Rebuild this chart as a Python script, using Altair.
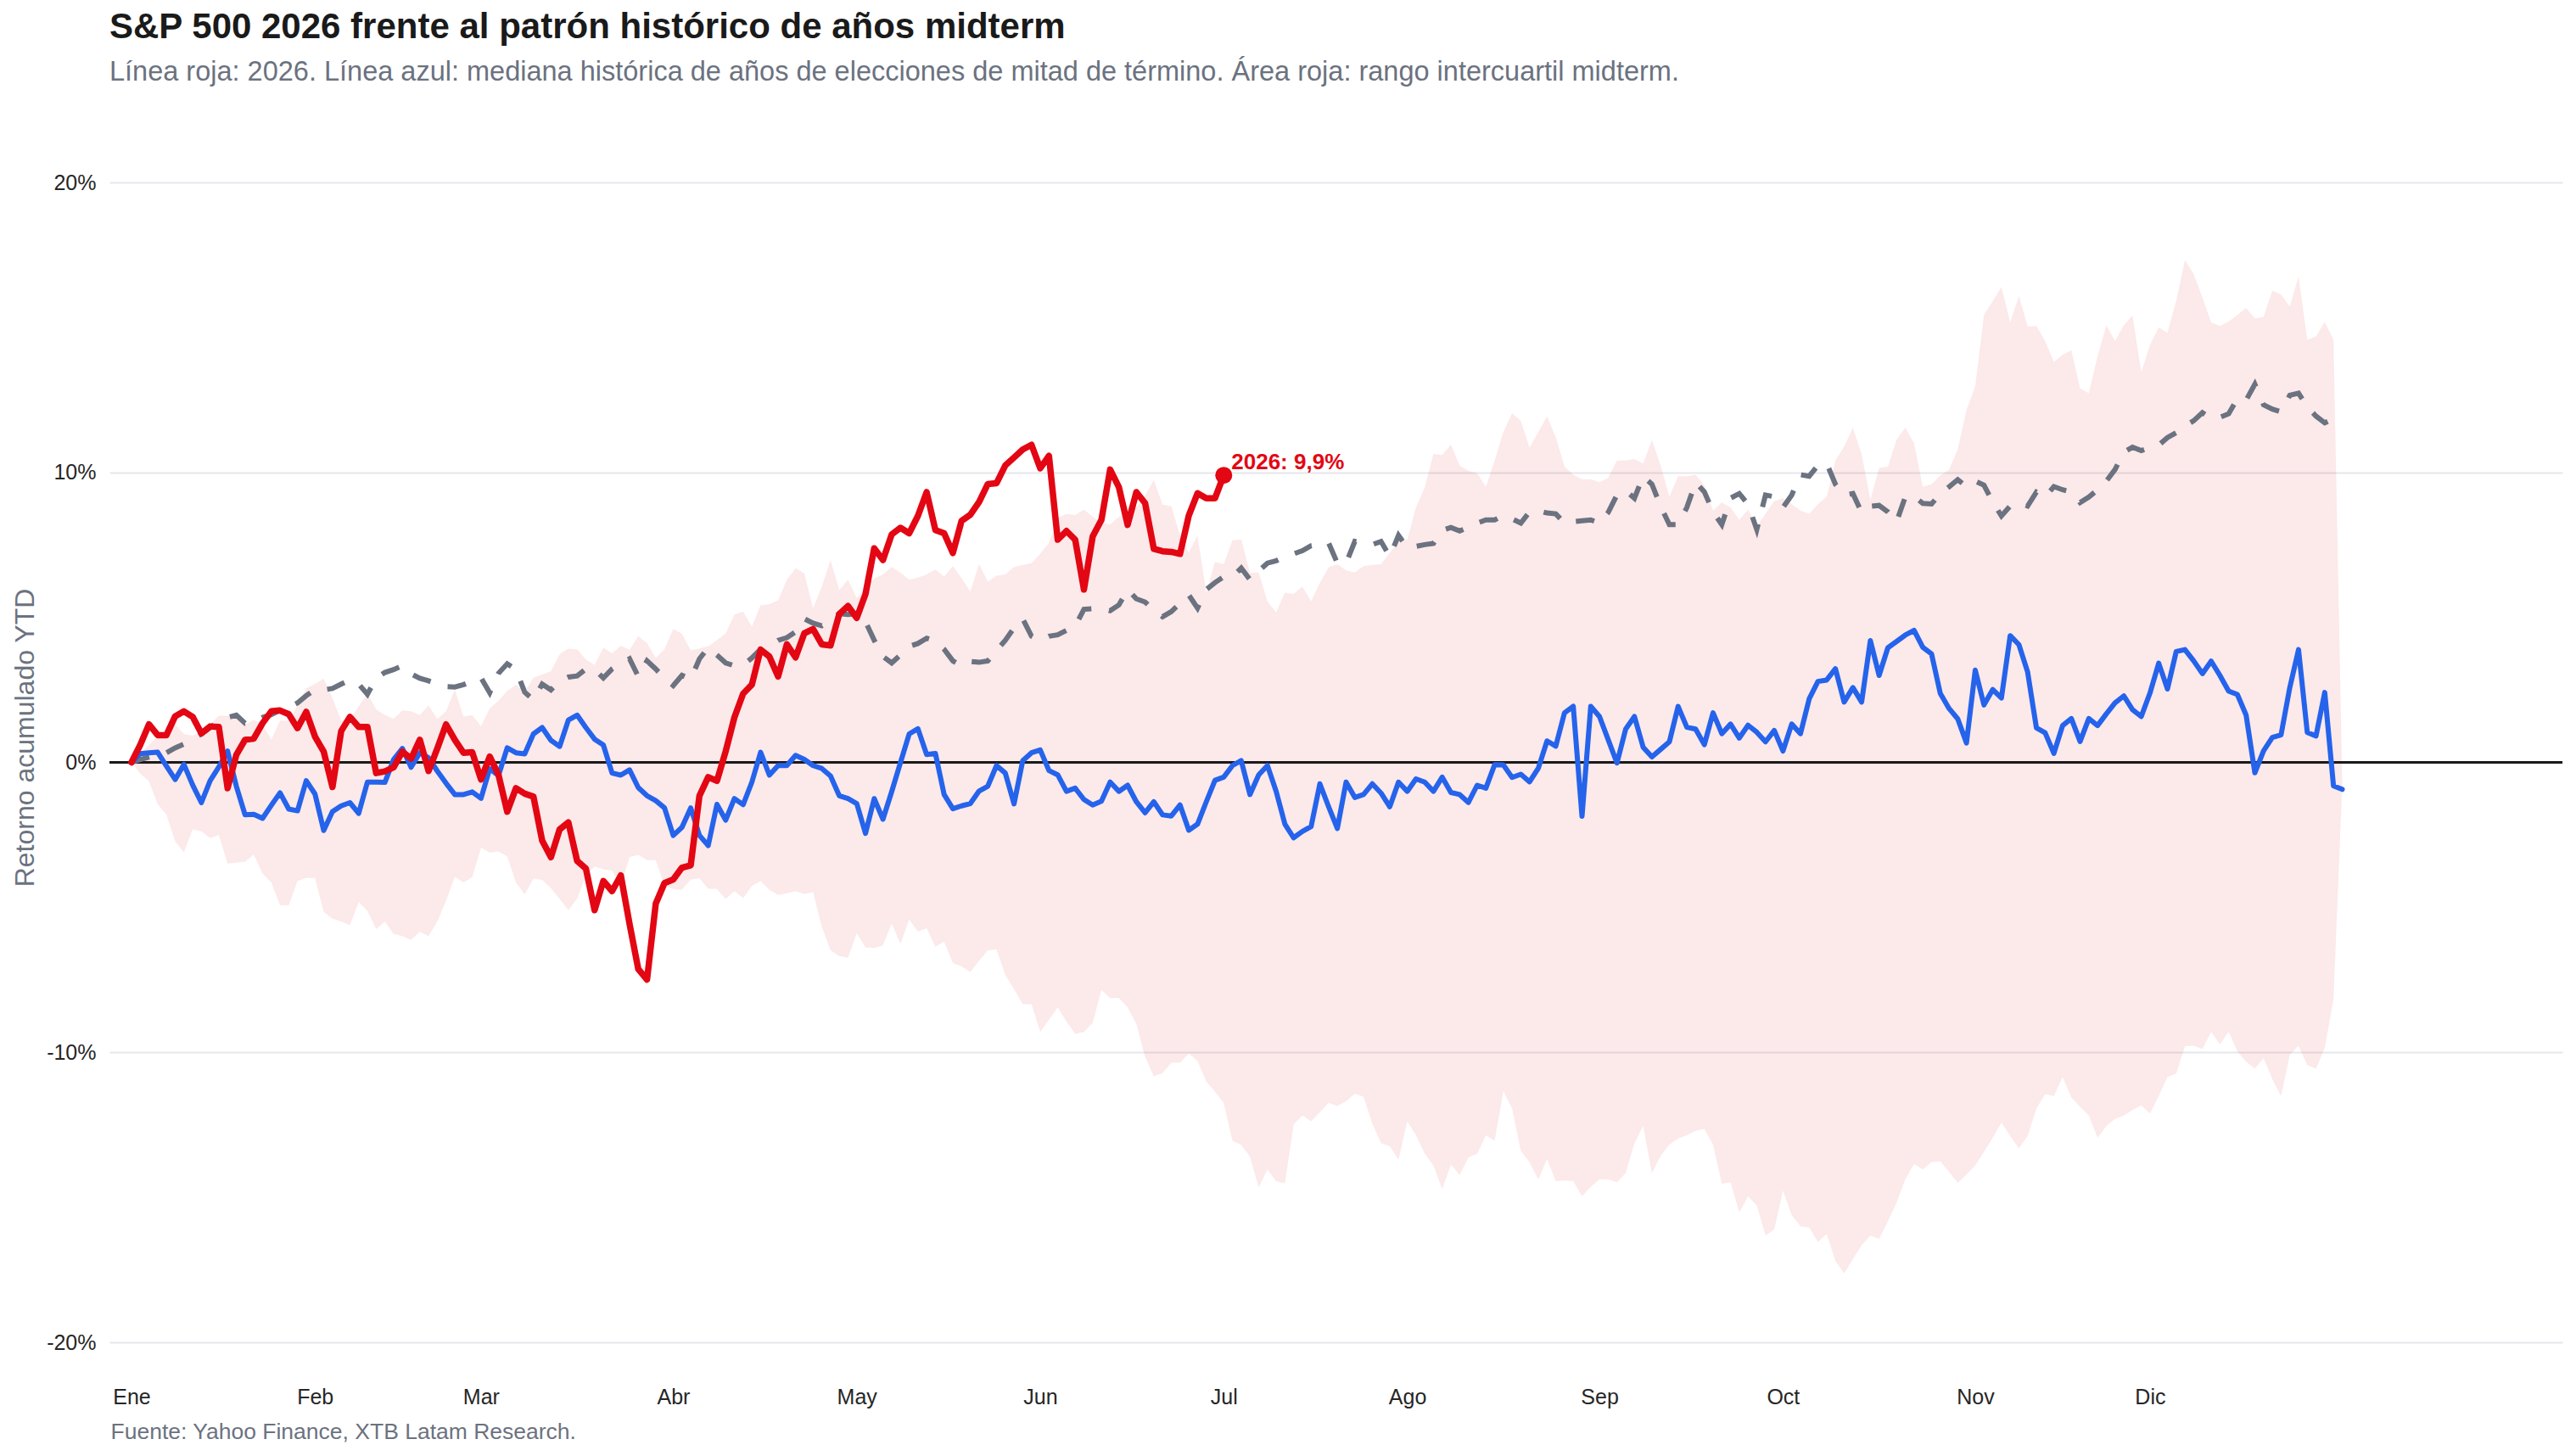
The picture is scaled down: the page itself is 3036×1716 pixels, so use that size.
import altair as alt
import pandas as pd

FONT = "Liberation Sans"
RED = "#e30613"
BLUE = "#2563eb"
GRAY = "#6b7280"
DARK = "#262626"

TITLE = "S&P 500 2026 frente al patrón histórico de años midterm"
SUBTITLE = ("Línea roja: 2026. Línea azul: mediana histórica de años de elecciones de mitad de término. "
            "Área roja: rango intercuartil midterm.")
SOURCE = "Fuente: Yahoo Finance, XTB Latam Research."
Y_TITLE = "Retorno acumulado YTD"

month_labels = ["Ene", "Feb", "Mar", "Abr", "May", "Jun", "Jul", "Ago", "Sep", "Oct", "Nov", "Dic"]
month_pos = [0, 21, 40, 62, 83, 104, 125, 146, 168, 189, 211, 231]

# Historical midterm median (blue)
blue = [
    0.0, 0.30, 0.33, 0.35, -0.13, -0.59, -0.07, -0.78, -1.39, -0.63,
    -0.16, 0.39, -0.82, -1.81, -1.79, -1.93, -1.48, -1.05, -1.61, -1.67,
    -0.63, -1.09, -2.35, -1.70, -1.50, -1.39, -1.76, -0.68, -0.68, -0.69,
    0.10, 0.48, -0.17, 0.33, 0.16, -0.30, -0.72, -1.11, -1.11, -1.02,
    -1.24, -0.22, -0.46, 0.50, 0.33, 0.29, 0.98, 1.20, 0.76, 0.55,
    1.46, 1.63, 1.20, 0.80, 0.60, -0.37, -0.44, -0.26, -0.87, -1.15,
    -1.32, -1.57, -2.52, -2.24, -1.57, -2.52, -2.87, -1.45, -1.99, -1.25,
    -1.46, -0.68, 0.35, -0.44, -0.11, -0.11, 0.24, 0.10, -0.11, -0.21,
    -0.47, -1.15, -1.25, -1.42, -2.45, -1.25, -1.96, -1.01, -0.01, 0.98,
    1.16, 0.27, 0.31, -1.11, -1.60, -1.50, -1.42, -0.99, -0.82, -0.11,
    -0.37, -1.43, 0.06, 0.33, 0.43, -0.28, -0.43, -1.00, -0.89, -1.28,
    -1.47, -1.34, -0.68, -1.00, -0.79, -1.36, -1.74, -1.36, -1.81, -1.85,
    -1.47, -2.34, -2.13, -1.36, -0.62, -0.51, -0.11, 0.06, -1.11, -0.43,
    -0.11, -1.00, -2.13, -2.60, -2.38, -2.21, -0.74, -1.53, -2.28, -0.68,
    -1.21, -1.11, -0.74, -1.06, -1.53, -0.68, -1.00, -0.57, -0.68, -1.00,
    -0.51, -1.04, -1.11, -1.38, -0.79, -0.89, -0.08, -0.09, -0.52, -0.41,
    -0.67, -0.20, 0.74, 0.56, 1.71, 1.93, -1.86, 1.93, 1.58, 0.78,
    -0.02, 1.15, 1.58, 0.52, 0.19, 0.45, 0.71, 1.93, 1.21, 1.15,
    0.61, 1.71, 0.99, 1.32, 0.84, 1.28, 1.04, 0.71, 1.10, 0.39,
    1.32, 0.99, 2.19, 2.79, 2.84, 3.23, 2.08, 2.58, 2.08, 4.20,
    3.00, 3.95, 4.17, 4.39, 4.55, 3.97, 3.74, 2.38, 1.86, 1.50,
    0.67, 3.18, 1.98, 2.51, 2.22, 4.37, 4.06, 3.11, 1.19, 1.02,
    0.31, 1.27, 1.51, 0.72, 1.51, 1.27, 1.67, 2.05, 2.29, 1.82,
    1.58, 2.39, 3.42, 2.53, 3.82, 3.89, 3.50, 3.06, 3.49, 3.00,
    2.46, 2.34, 1.63, -0.36, 0.40, 0.86, 0.95, 2.58, 3.89, 1.03,
    0.91, 2.41, -0.81, -0.93,
]

# Grey dashed reference path
gray = [
    0.0, 0.10, 0.18, 0.25, 0.33, 0.50, 0.63, 0.80, 0.98, 1.20,
    1.41, 1.55, 1.63, 1.35, 1.40, 1.55, 1.65, 1.80, 1.90, 2.05,
    2.30, 2.51, 2.50, 2.55, 2.70, 2.84, 2.70, 2.35, 2.90, 3.10,
    3.20, 3.33, 3.05, 2.90, 2.81, 2.70, 2.61, 2.60, 2.68, 2.80,
    2.92, 2.40, 3.07, 3.40, 3.20, 2.42, 2.16, 2.70, 2.50, 2.80,
    2.94, 2.98, 3.22, 3.20, 2.91, 3.22, 3.40, 3.57, 2.96, 3.50,
    3.22, 2.90, 2.65, 3.00, 2.87, 3.57, 3.96, 3.70, 3.43, 3.33,
    3.36, 3.60, 3.90, 4.00, 4.21, 4.30, 4.50, 4.95, 4.80, 4.71,
    4.88, 5.13, 5.10, 5.13, 4.85, 4.21, 3.65, 3.43, 3.70, 4.00,
    4.10, 4.28, 4.18, 3.90, 3.50, 3.33, 3.48, 3.45, 3.50, 3.86,
    4.21, 4.64, 4.95, 4.35, 4.21, 4.35, 4.40, 4.55, 4.70, 5.28,
    5.30, 5.32, 5.23, 5.43, 5.96, 5.64, 5.53, 5.25, 5.02, 5.20,
    5.49, 5.77, 5.32, 5.96, 6.20, 6.40, 6.40, 6.70, 6.30, 6.60,
    6.87, 6.95, 7.10, 7.19, 7.30, 7.47, 7.50, 7.57, 6.87, 6.87,
    7.62, 7.55, 7.51, 7.62, 7.10, 7.83, 7.40, 7.45, 7.51, 7.55,
    8.00, 8.10, 7.98, 8.10, 8.25, 8.36, 8.36, 8.51, 8.40, 8.25,
    8.64, 8.68, 8.60, 8.57, 8.25, 8.30, 8.33, 8.36, 8.25, 8.62,
    9.22, 9.37, 9.11, 9.87, 9.59, 8.83, 8.20, 8.20, 8.79, 9.66,
    9.33, 8.64, 8.20, 9.11, 9.27, 8.90, 8.03, 9.22, 9.16, 8.79,
    9.22, 9.92, 9.87, 10.24, 10.31, 9.59, 9.22, 9.27, 8.62, 8.83,
    8.86, 8.64, 8.30, 9.16, 9.18, 8.93, 8.91, 9.27, 9.50, 9.75,
    9.51, 9.70, 9.56, 8.98, 8.50, 8.84, 8.96, 8.84, 9.32, 9.15,
    9.51, 9.40, 9.32, 8.96, 9.15, 9.40, 9.70, 10.10, 10.70, 10.87,
    10.75, 10.85, 10.94, 11.20, 11.37, 11.60, 11.78, 12.06, 11.85, 11.90,
    12.02, 12.54, 12.49, 13.04, 12.33, 12.18, 12.09, 12.66, 12.73, 12.26,
    11.94, 11.71, 11.85,
]

# Interquartile range, upper (q3) and lower (q1)
q3 = [
    0.0, 0.30, 0.60, 0.90, 1.10, 1.31, 0.98, 0.92, 1.05, 1.31,
    1.61, 1.61, 1.57, 1.31, 1.46, 1.31, 0.78, 1.44, 1.44, 1.96,
    2.55, 2.71, 2.88, 2.22, 1.44, 1.46, 1.93, 2.38, 1.83, 1.63,
    1.50, 1.79, 1.76, 1.63, 1.96, 1.50, 1.76, 2.51, 1.57, 1.63,
    1.24, 1.86, 2.12, 2.46, 2.68, 2.42, 2.92, 3.03, 3.14, 3.73,
    3.92, 3.90, 3.55, 3.36, 3.95, 3.76, 4.02, 3.88, 4.35, 4.11,
    3.60, 3.90, 4.60, 4.43, 3.86, 3.93, 4.00, 4.21, 4.45, 5.09,
    5.20, 4.68, 5.42, 5.45, 5.59, 6.30, 6.69, 6.52, 5.32, 6.06,
    6.98, 5.94, 6.30, 5.66, 6.01, 6.34, 6.48, 6.74, 6.55, 6.30,
    6.37, 6.48, 6.65, 6.41, 6.77, 6.35, 5.89, 6.84, 6.23, 6.44,
    6.48, 6.74, 6.80, 6.87, 7.19, 7.57, 8.43, 8.57, 8.53, 8.72,
    8.47, 8.26, 8.21, 8.47, 8.64, 8.79, 9.21, 9.74, 8.89, 8.83,
    7.83, 7.23, 7.83, 5.85, 6.91, 6.83, 7.66, 7.68, 6.55, 6.55,
    5.55, 5.17, 5.85, 5.81, 6.06, 5.55, 6.19, 6.72, 6.83, 6.62,
    6.55, 6.77, 6.81, 6.83, 7.23, 7.62, 7.68, 8.79, 9.47, 10.64,
    10.60, 10.96, 10.23, 10.06, 9.97, 9.50, 10.40, 11.39, 12.04, 11.78,
    10.85, 11.39, 11.93, 11.21, 10.20, 9.92, 9.76, 9.76, 9.66, 9.81,
    10.41, 10.41, 10.46, 10.31, 11.11, 10.24, 9.16, 9.87, 9.87, 9.92,
    9.55, 8.68, 8.96, 8.79, 8.36, 8.72, 8.14, 8.57, 9.01, 9.11,
    8.90, 8.68, 8.57, 8.90, 9.16, 10.41, 10.89, 11.54, 10.63, 9.05,
    10.15, 10.20, 11.13, 11.54, 11.00, 9.50, 9.59, 9.90, 10.09, 10.80,
    12.14, 12.97, 15.43, 15.90, 16.39, 15.17, 16.08, 15.03, 15.05, 14.53,
    13.81, 14.05, 14.21, 12.90, 12.73, 14.00, 15.07, 14.53, 15.07, 15.41,
    13.45, 14.40, 15.00, 14.81, 15.91, 17.32, 16.84, 16.03, 15.17, 15.05,
    15.20, 15.43, 15.67, 15.31, 15.36, 16.27, 16.13, 15.72, 16.75, 14.57,
    14.69, 15.19, 14.57, -0.70,
]

q1 = [
    0.0, -0.39, -0.65, -1.44, -1.80, -2.72, -3.10, -2.31, -2.38, -2.61,
    -2.51, -3.49, -3.46, -3.42, -3.18, -3.83, -4.14, -4.93, -4.93, -4.09,
    -3.99, -3.99, -5.16, -5.39, -5.49, -5.62, -4.81, -5.12, -5.75, -5.49,
    -5.92, -5.99, -6.12, -5.84, -5.99, -5.49, -4.77, -3.95, -4.14, -3.96,
    -2.94, -3.11, -3.07, -3.24, -4.14, -4.55, -4.01, -4.05, -4.34, -4.71,
    -5.10, -4.70, -3.90, -3.59, -3.69, -3.73, -4.26, -3.26, -3.19, -3.37,
    -3.37, -4.26, -4.37, -4.40, -4.04, -4.00, -4.36, -4.37, -4.71, -4.44,
    -4.68, -4.26, -4.09, -4.40, -4.57, -4.51, -4.44, -4.54, -4.47, -5.67,
    -6.48, -6.68, -6.74, -5.89, -6.38, -6.40, -6.31, -5.55, -6.26, -5.41,
    -5.84, -5.72, -6.36, -6.18, -6.92, -7.04, -7.23, -6.84, -6.48, -6.45,
    -7.33, -7.82, -8.34, -8.34, -9.30, -8.87, -8.45, -8.94, -9.36, -9.30,
    -8.98, -7.85, -8.13, -8.13, -8.45, -9.02, -10.15, -10.83, -10.72, -10.36,
    -10.36, -10.04, -10.30, -11.00, -11.36, -11.74, -13.06, -13.19, -13.60, -14.66,
    -14.04, -14.45, -14.51, -12.49, -12.17, -12.38, -12.06, -11.74, -11.85, -11.68,
    -11.43, -11.53, -12.45, -13.13, -13.23, -13.70, -12.38, -12.85, -13.49, -13.91,
    -14.72, -13.87, -14.23, -13.62, -13.50, -12.86, -13.05, -11.34, -11.93, -13.40,
    -13.79, -14.38, -13.68, -14.44, -14.42, -14.44, -14.96, -14.64, -14.38, -14.38,
    -14.48, -14.16, -13.14, -12.54, -14.16, -13.57, -13.18, -12.97, -12.86, -12.71,
    -12.64, -13.18, -14.53, -14.48, -15.52, -14.96, -15.28, -16.32, -16.11, -14.77,
    -15.61, -16.00, -16.04, -16.54, -16.26, -17.19, -17.62, -17.13, -16.65, -16.32,
    -16.43, -15.83, -15.18, -14.38, -13.85, -14.04, -13.78, -13.76, -14.12, -14.50,
    -14.21, -13.90, -13.43, -12.95, -12.42, -12.88, -13.31, -12.88, -11.94, -11.44,
    -11.51, -10.85, -11.56, -11.87, -12.18, -12.95, -12.54, -12.30, -12.18, -11.99,
    -11.83, -12.11, -11.51, -10.85, -10.73, -9.79, -9.77, -9.89, -9.29, -9.72,
    -9.29, -9.96, -10.32, -10.56, -10.20, -10.92, -11.51, -10.08, -9.77, -10.44,
    -10.56, -9.84, -8.17, -0.76,
]

# 2026 YTD (red)
red = [
    0.0, 0.60, 1.31, 0.94, 0.94, 1.59, 1.76, 1.57, 1.00, 1.24,
    1.22, -0.89, 0.26, 0.78, 0.82, 1.35, 1.76, 1.79, 1.66, 1.18,
    1.74, 0.89, 0.37, -0.85, 1.08, 1.57, 1.22, 1.22, -0.37, -0.31,
    -0.17, 0.37, 0.13, 0.78, -0.30, 0.48, 1.31, 0.78, 0.33, 0.35,
    -0.59, 0.20, -0.43, -1.70, -0.89, -1.08, -1.18, -2.70, -3.27, -2.31,
    -2.07, -3.40, -3.66, -5.10, -4.09, -4.44, -3.90, -5.57, -7.13, -7.49,
    -4.87, -4.16, -4.04, -3.63, -3.55, -1.15, -0.51, -0.64, 0.38, 1.55,
    2.37, 2.68, 3.89, 3.65, 2.96, 4.07, 3.62, 4.45, 4.60, 4.07,
    4.03, 5.11, 5.39, 4.98, 5.80, 7.38, 6.98, 7.86, 8.09, 7.90,
    8.50, 9.32, 8.01, 7.90, 7.22, 8.33, 8.54, 8.98, 9.60, 9.63,
    10.24, 10.51, 10.79, 10.95, 10.14, 10.57, 7.68, 7.98, 7.68, 5.96,
    7.79, 8.36, 10.10, 9.49, 8.19, 9.32, 8.94, 7.36, 7.28, 7.26,
    7.19, 8.51, 9.28, 9.11, 9.11, 9.90,
]

hist_df = pd.DataFrame({"idx": list(range(len(blue))), "mediana": blue, "q1": q1, "q3": q3})
gray_df = pd.DataFrame({"idx": list(range(len(gray))), "v": gray})
red_df = pd.DataFrame({"idx": list(range(len(red))), "v": red})
last_df = red_df.tail(1).copy()
last_df["label"] = "2026: " + f"{red[-1]:.1f}".replace(".", ",") + "%"

x_scale = alt.Scale(domain=[-2.52, 278.2], nice=False, zero=False)
y_scale = alt.Scale(domain=[-20, 20], nice=False, zero=False)

label_expr = ("[" + ",".join(f"'{m}'" for m in month_labels) + "][indexof(["
              + ",".join(str(p) for p in month_pos) + "], datum.value)]")

x_axis = alt.Axis(
    values=month_pos, labelExpr=label_expr, labelAngle=0,
    grid=False, ticks=False, tickSize=0, domain=False,
    labelPadding=52, labelFontSize=25, labelColor=DARK, labelFont=FONT,
    title=SOURCE, titleFont=FONT, titleFontSize=26.5, titleFontWeight="normal",
    titleColor=GRAY, titleX=1, titleY=113, titleAlign="left",
    titleAnchor="start", titleBaseline="alphabetic", titleAngle=0,
)
y_axis = alt.Axis(
    values=[-20, -10, 0, 10, 20], labelExpr="datum.value + '%'",
    grid=True, gridColor="#e5e7eb", gridWidth=2,
    ticks=False, tickSize=0, domain=False,
    labelPadding=16, labelFontSize=25, labelColor=DARK, labelFont=FONT,
    title=Y_TITLE, titleFont=FONT, titleFontSize=32, titleFontWeight="normal",
    titleColor=GRAY, titlePadding=8, titleY=654,
)

X = alt.X("idx:Q", scale=x_scale, axis=x_axis)

area = alt.Chart(hist_df).mark_area(color=RED, opacity=0.09).encode(
    x=X, y=alt.Y("q1:Q", scale=y_scale, axis=y_axis), y2="q3:Q"
)
zero = alt.Chart(hist_df).mark_rule(color="#1a1a1a", strokeWidth=3).encode(
    y=alt.Y(datum=0, scale=y_scale, axis=y_axis)
)
gray_line = alt.Chart(gray_df).mark_line(
    color=GRAY, strokeWidth=6, strokeDash=[22, 21]
).encode(x=X, y=alt.Y("v:Q", scale=y_scale, axis=y_axis))
blue_line = alt.Chart(hist_df).mark_line(
    color=BLUE, strokeWidth=6, strokeJoin="round", strokeCap="round"
).encode(x=X, y=alt.Y("mediana:Q", scale=y_scale, axis=y_axis))
red_line = alt.Chart(red_df).mark_line(
    color=RED, strokeWidth=7.5, strokeJoin="round", strokeCap="round"
).encode(x=X, y=alt.Y("v:Q", scale=y_scale, axis=y_axis))
red_point = alt.Chart(last_df).mark_point(
    color=RED, filled=True, opacity=1, size=400
).encode(x=X, y=alt.Y("v:Q", scale=y_scale, axis=y_axis))
red_label = alt.Chart(last_df).mark_text(
    color=RED, font=FONT, fontSize=26, fontWeight="bold",
    align="left", baseline="alphabetic", dx=9, dy=-7
).encode(x=X, y=alt.Y("v:Q", scale=y_scale, axis=y_axis), text="label:N")

chart = alt.layer(area, zero, gray_line, blue_line, red_line, red_point, red_label).properties(
    width=2891, height=1367,
    autosize=alt.AutoSizeParams(type="none"),
    padding={"left": 129, "top": 215, "right": 16, "bottom": 134},
    background="white",
    title=alt.TitleParams(
        text=TITLE, subtitle=SUBTITLE, anchor="start", frame="group",
        font=FONT, fontSize=42, fontWeight="bold", color="#1a1a1a",
        subtitleFont=FONT, subtitleFontSize=32.5, subtitleColor=GRAY,
        subtitlePadding=15, offset=101,
    ),
).configure_view(stroke=None)

chart.save("out.html", embed_options={"renderer": "svg", "actions": False})
